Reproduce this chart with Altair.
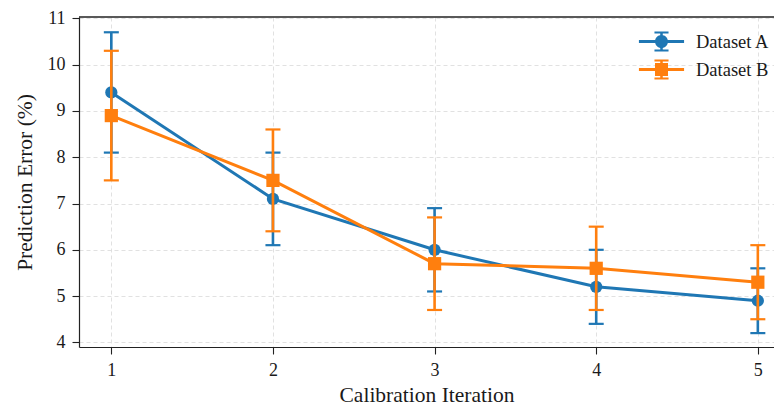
import altair as alt
import pandas as pd

iterations = [1, 2, 3, 4, 5]
series_names = ["Dataset A", "Dataset B"]
a_mean = [9.4, 7.1, 6.0, 5.2, 4.9]
a_err = [1.3, 1.0, 0.9, 0.8, 0.7]
b_mean = [8.9, 7.5, 5.7, 5.6, 5.3]
b_err = [1.4, 1.1, 1.0, 0.9, 0.8]
colors = ["#1f77b4", "#ff7f0e"]
y_ticks = [4, 5, 6, 7, 8, 9, 10, 11]

W, H = 695, 330
FONT = "Liberation Serif"

x_scale = alt.Scale(domain=[0.8, 5.1], nice=False, zero=False)
y_scale = alt.Scale(domain=[3.9, 11.03], nice=False, zero=False)
x_axis = alt.Axis(values=iterations, format="d", title="Calibration Iteration", titlePadding=5)
y_axis = alt.Axis(values=y_ticks, format="d", title="Prediction Error (%)", titlePadding=11)


def make_df(means, errs):
    return pd.DataFrame({
        "iter": iterations,
        "mean": means,
        "lo": [m - e for m, e in zip(means, errs)],
        "hi": [m + e for m, e in zip(means, errs)],
    })


def series_layers(df, color, shape, size):
    base = alt.Chart(df)
    x = alt.X("iter:Q", scale=x_scale, axis=x_axis)
    bars = base.mark_rule(color=color, strokeWidth=2.6).encode(
        x=x, y=alt.Y("lo:Q", scale=y_scale, axis=y_axis), y2="hi:Q")
    cap_lo = base.mark_tick(color=color, orient="horizontal", size=15, thickness=2.2, opacity=1).encode(
        x=x, y=alt.Y("lo:Q", scale=y_scale, axis=y_axis))
    cap_hi = base.mark_tick(color=color, orient="horizontal", size=15, thickness=2.2, opacity=1).encode(
        x=x, y=alt.Y("hi:Q", scale=y_scale, axis=y_axis))
    line = base.mark_line(color=color, strokeWidth=3).encode(
        x=x, y=alt.Y("mean:Q", scale=y_scale, axis=y_axis))
    pts = base.mark_point(color=color, filled=True, shape=shape, size=size, opacity=1).encode(
        x=x, y=alt.Y("mean:Q", scale=y_scale, axis=y_axis))
    return [bars, cap_lo, cap_hi, line, pts]


df_a = make_df(a_mean, a_err)
df_b = make_df(b_mean, b_err)

path_a = ("M-2.15,-0.14H2.15V0.14H-2.15Z M-0.12,-0.95H0.12V0.95H-0.12Z M-0.67,-0.95H0.67V-0.76H-0.67Z "
          "M-0.67,0.76H0.67V0.95H-0.67Z M0.62,0A0.62,0.62 0 1,1 -0.62,0A0.62,0.62 0 1,1 0.62,0Z")
path_b = ("M-2.15,-0.14H2.15V0.14H-2.15Z M-0.12,-0.95H0.12V0.95H-0.12Z M-0.67,-0.95H0.67V-0.76H-0.67Z "
          "M-0.67,0.76H0.67V0.95H-0.67Z M-0.62,-0.62H0.62V0.62H-0.62Z")

leg = alt.Legend(
    title=None, orient="none", legendX=572, legendY=14, padding=0,
    symbolSize=441, symbolStrokeWidth=0, rowPadding=7, labelOffset=24,
    labelFont=FONT, labelFontSize=18.5, labelColor="#1a1a1a", symbolOpacity=1,
)
legend_df = pd.DataFrame({"series": series_names})
legend_layer = alt.Chart(legend_df).mark_point(filled=True, opacity=1).encode(
    color=alt.Color("series:N", scale=alt.Scale(domain=series_names, range=colors), legend=leg),
    shape=alt.Shape("series:N", scale=alt.Scale(domain=series_names, range=[path_a, path_b]), legend=leg),
).transform_filter("false")

top_spine = alt.Chart(legend_df).mark_rule(color="#222222", strokeWidth=1.2).encode(
    x=alt.value(0), x2=alt.value(W), y=alt.value(0))

layers = series_layers(df_a, colors[0], "circle", 150) + series_layers(df_b, colors[1], "square", 175)

chart = alt.layer(*layers, top_spine, legend_layer).properties(
    width=W, height=H,
    autosize=alt.AutoSizeParams(type="none"),
    padding={"left": 71, "top": 9, "right": 0, "bottom": 58},
).configure_view(stroke=None).configure_axis(
    labelFont=FONT, labelFontSize=18, labelColor="#1a1a1a", labelPadding=7,
    titleFont=FONT, titleFontSize=21.5, titleFontWeight="normal", titleColor="#1a1a1a",
    domainColor="#222222", domainWidth=1.2, tickColor="#222222", tickSize=7, tickWidth=1.1,
    gridColor="#d9d9d9", gridDash=[4, 3], gridWidth=0.8,
)

chart.save("out.html", embed_options={"renderer": "svg", "actions": False})
